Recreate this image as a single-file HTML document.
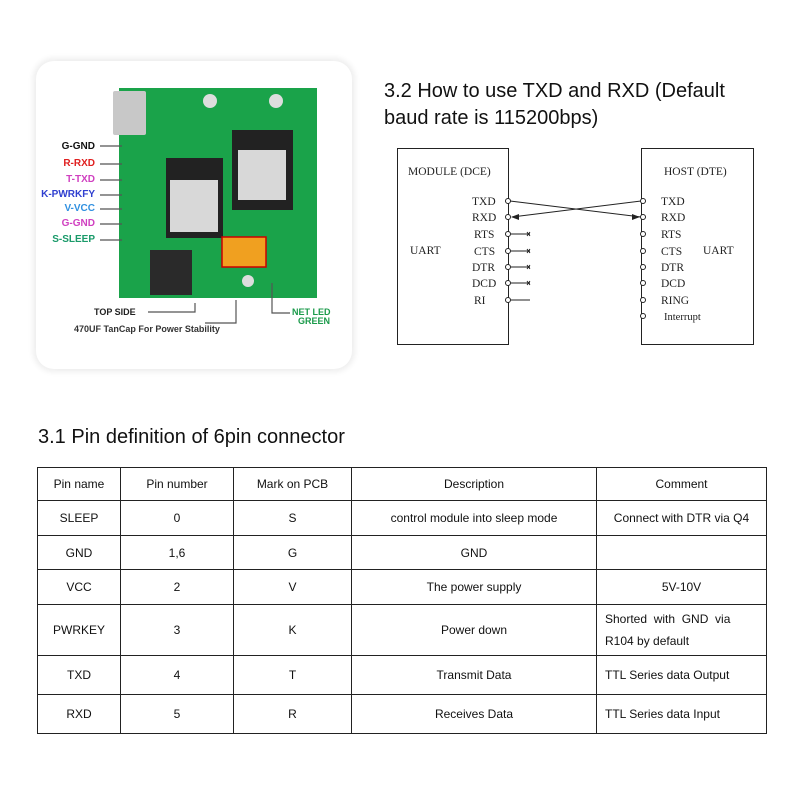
<!DOCTYPE html>
<html><head><meta charset="utf-8"><style>
body{margin:0;width:800px;height:800px;background:#fff;position:relative;overflow:hidden;font-family:"Liberation Sans",sans-serif}
.card{position:absolute;left:36px;top:61px;width:316px;height:308px;border-radius:18px;background:#fff;box-shadow:0 0 6px 3px #eee}
.lbl{position:absolute;font-size:10px;font-weight:bold;text-align:right;width:80px;left:15px}
h2{position:absolute;margin:0;font-weight:normal;font-size:20px;color:#111}
table{position:absolute;left:37px;top:467px;border-collapse:collapse;font-size:12px;color:#111}
td{border:1px solid #222;text-align:center;padding:0}
</style></head><body>
<div class="card"></div>
<svg style="position:absolute;left:0;top:0" width="800" height="800">
<rect x="119" y="88" width="198" height="210" fill="#1aa34a"/>
<rect x="113" y="91" width="33" height="44" fill="#c8c8c8" rx="2"/>
<rect x="166" y="158" width="57" height="80" fill="#222"/><rect x="170" y="180" width="48" height="52" fill="#d8d8d8"/>
<rect x="232" y="130" width="61" height="80" fill="#222"/><rect x="238" y="150" width="48" height="50" fill="#d8d8d8"/>
<rect x="150" y="250" width="42" height="45" fill="#2a2a2a"/>
<rect x="222" y="237" width="44" height="30" fill="#f0a020" stroke="#c00" stroke-width="1.5"/>
<circle cx="210" cy="101" r="7" fill="#ddd"/><circle cx="276" cy="101" r="7" fill="#ddd"/><circle cx="248" cy="281" r="6" fill="#ddd"/>
<g stroke="#555" stroke-width="1.2">
<line x1="100" y1="146" x2="122" y2="146"/><line x1="100" y1="164" x2="122" y2="164"/><line x1="100" y1="180" x2="122" y2="180"/><line x1="100" y1="195" x2="122" y2="195"/><line x1="100" y1="209" x2="122" y2="209"/><line x1="100" y1="224" x2="122" y2="224"/><line x1="100" y1="240" x2="122" y2="240"/>
<polyline points="148,312 195,312 195,303" fill="none"/><polyline points="205,323 236,323 236,300" fill="none"/><polyline points="272,283 272,313 290,313" fill="none"/>
</g>
<g fill="none" stroke="#222" stroke-width="1">
<rect x="397.5" y="148.5" width="111" height="196"/><rect x="641.5" y="148.5" width="112" height="196"/>
<line x1="510" y1="201" x2="641" y2="217"/><line x1="641" y1="201" x2="512" y2="217"/>
<line x1="511" y1="234" x2="530" y2="234"/><line x1="511" y1="251" x2="530" y2="251"/><line x1="511" y1="267" x2="530" y2="267"/><line x1="511" y1="283" x2="530" y2="283"/><line x1="511" y1="300" x2="530" y2="300"/>
<path d="M527,232l3,4M530,232l-3,4M527,249l3,4M530,249l-3,4M527,265l3,4M530,265l-3,4M527,281l3,4M530,281l-3,4"/>
<g fill="#fff"><circle cx="508" cy="201" r="2.5"/><circle cx="508" cy="217" r="2.5"/><circle cx="508" cy="234" r="2.5"/><circle cx="508" cy="251" r="2.5"/><circle cx="508" cy="267" r="2.5"/><circle cx="508" cy="283" r="2.5"/><circle cx="508" cy="300" r="2.5"/>
<circle cx="643" cy="201" r="2.5"/><circle cx="643" cy="217" r="2.5"/><circle cx="643" cy="234" r="2.5"/><circle cx="643" cy="251" r="2.5"/><circle cx="643" cy="267" r="2.5"/><circle cx="643" cy="283" r="2.5"/><circle cx="643" cy="300" r="2.5"/><circle cx="643" cy="316" r="2.5"/></g>
</g>
<polygon points="511,217 519,214 519,220" fill="#222"/><polygon points="640,217 632,214 632,220" fill="#222"/>
<g font-family="Liberation Serif,serif" font-size="11.5" fill="#222">
<text x="408" y="175">MODULE (DCE)</text><text x="664" y="175">HOST (DTE)</text>
<text x="410" y="254">UART</text><text x="703" y="254">UART</text>
<text x="472" y="205">TXD</text><text x="472" y="221">RXD</text><text x="474" y="238">RTS</text><text x="474" y="255">CTS</text><text x="472" y="271">DTR</text><text x="472" y="287">DCD</text><text x="474" y="304">RI</text>
<text x="661" y="205">TXD</text><text x="661" y="221">RXD</text><text x="661" y="238">RTS</text><text x="661" y="255">CTS</text><text x="661" y="271">DTR</text><text x="661" y="287">DCD</text><text x="661" y="304">RING</text><text x="664" y="320" font-size="10.5">Interrupt</text>
</g>
<g font-family="Liberation Sans,sans-serif" font-size="9" font-weight="bold">
<text x="94" y="315" fill="#222">TOP SIDE</text><text x="74" y="332" fill="#333">470UF TanCap For Power Stability</text>
<text x="292" y="315" fill="#1a9a4a">NET LED</text><text x="298" y="324" fill="#1a9a4a">GREEN</text>
</g>
</svg>
<div class="lbl" style="top:141px;color:#111">G-GND</div>
<div class="lbl" style="top:158px;color:#e02020">R-RXD</div>
<div class="lbl" style="top:174px;color:#d040c0">T-TXD</div>
<div class="lbl" style="top:189px;color:#3040d0">K-PWRKFY</div>
<div class="lbl" style="top:203px;color:#3090e0">V-VCC</div>
<div class="lbl" style="top:218px;color:#d040c0">G-GND</div>
<div class="lbl" style="top:234px;color:#1a9a6a">S-SLEEP</div>
<h2 style="left:384px;top:78px;line-height:27px">3.2 How to use TXD and RXD (Default<br>baud rate is 115200bps)</h2>
<h2 style="left:38px;top:426px">3.1 Pin definition of 6pin connector</h2>
<table>
<tr style="height:33px"><td style="width:82px">Pin name</td><td style="width:112px">Pin number</td><td style="width:117px">Mark on PCB</td><td style="width:244px">Description</td><td style="width:169px">Comment</td></tr>
<tr style="height:35px"><td>SLEEP</td><td>0</td><td>S</td><td>control module into sleep mode</td><td>Connect with DTR via Q4</td></tr>
<tr style="height:34px"><td>GND</td><td>1,6</td><td>G</td><td>GND</td><td></td></tr>
<tr style="height:35px"><td>VCC</td><td>2</td><td>V</td><td>The power supply</td><td>5V-10V</td></tr>
<tr style="height:51px"><td>PWRKEY</td><td>3</td><td>K</td><td>Power down</td><td style="text-align:left;padding:0 8px;line-height:22px">Shorted &nbsp;with &nbsp;GND &nbsp;via R104 by default</td></tr>
<tr style="height:39px"><td>TXD</td><td>4</td><td>T</td><td>Transmit Data</td><td style="text-align:left;padding-left:8px">TTL Series data Output</td></tr>
<tr style="height:39px"><td>RXD</td><td>5</td><td>R</td><td>Receives Data</td><td style="text-align:left;padding-left:8px">TTL Series data Input</td></tr>
</table>
</body></html>
